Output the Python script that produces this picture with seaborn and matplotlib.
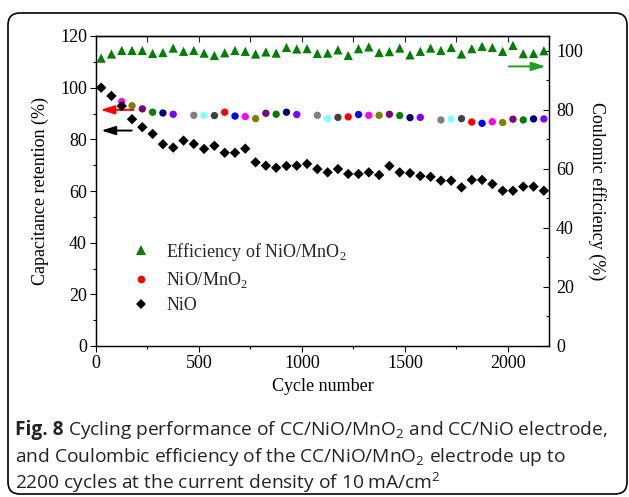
import numpy as np
import pandas as pd
import matplotlib
matplotlib.use("Agg")
import matplotlib.pyplot as plt
import seaborn as sns
from matplotlib.lines import Line2D
from matplotlib.patches import FancyBboxPatch
from matplotlib.ticker import MultipleLocator

# Cycle numbers at which each measurement was taken
cycles = [25, 75, 125, 175, 225, 275, 325, 375, 425, 475, 525, 575, 625, 675,
          725, 775, 825, 875, 925, 975, 1025, 1075, 1125, 1175, 1225, 1275,
          1325, 1375, 1425, 1475, 1525, 1575, 1625, 1675, 1725, 1775, 1825,
          1875, 1925, 1975, 2025, 2075, 2125, 2175]

# Coulombic efficiency of NiO/MnO2 (%), right axis
efficiency = [97.5, 98.9, 100.1, 100.1, 100.1, 99.1, 99.4, 100.9, 99.8, 100.1,
              99.2, 98.4, 99.3, 100.1, 99.8, 98.9, 99.6, 99.2, 101.1, 100.6,
              100.7, 99.1, 99.2, 100.3, 98.4, 100.7, 101.3, 99.4, 99.7, 100.9,
              98.6, 99.8, 100.9, 100.1, 101.1, 98.9, 100.7, 101.5, 101.1, 99.8,
              101.8, 99.0, 99.1, 100.0]

# Capacitance retention of NiO (%)
nio = [100.0, 96.8, 92.9, 87.8, 84.7, 82.1, 78.1, 76.8, 79.5, 78.2, 76.3,
       77.5, 74.8, 74.8, 76.4, 71.1, 69.8, 69.0, 69.7, 69.8, 70.5, 68.5, 67.2,
       68.5, 66.6, 66.6, 67.2, 66.2, 69.7, 67.2, 66.9, 65.8, 65.5, 64.0, 64.0,
       61.4, 64.3, 64.3, 62.7, 60.1, 60.1, 61.7, 61.7, 60.1]

# Capacitance retention of NiO/MnO2 (%); NaN where no point is shown
nio_mno2 = [100.0, np.nan, 94.6, 93.0, 91.8, 90.5, 90.2, 89.7, np.nan, 89.3,
            89.3, 89.2, 90.5, 89.0, 88.8, 88.0, 90.1, 89.7, 90.5, 89.6, np.nan,
            89.3, 88.0, 88.5, 88.7, 89.6, 89.3, 89.3, 89.7, 89.2, 88.4, 88.5,
            np.nan, 87.5, 87.9, 88.0, 86.7, 86.2, 86.8, 86.5, 87.8, 87.5,
            87.9, 87.9]

# Colour cycle used for the NiO/MnO2 points
color_cycle = ["red", "blue", "magenta", "olive", "purple", "green", "navy",
               "violet", "white", "gray", "cyan", "darkgray"]
palette = {"red": "#ff0000", "blue": "#0000ff", "magenta": "#ff00ff",
           "olive": "#808000", "purple": "#800080", "green": "#008000",
           "navy": "#000080", "violet": "#8000ff", "white": "#ffffff",
           "gray": "#808080", "cyan": "#80ffff", "darkgray": "#404040"}
point_colors = [color_cycle[i % len(color_cycle)] for i in range(len(cycles))]

sns.set_theme(style="ticks")
plt.rcParams["font.family"] = ["Liberation Serif", "DejaVu Serif"]

W, H = 629, 497
fig = plt.figure(figsize=(W / 100, H / 100), dpi=100)
fig.patch.set_facecolor("white")

ax = fig.add_axes([96 / W, 1 - 346 / H, 453 / W, 310 / H])
ax2 = ax.twinx()

df_mix = pd.DataFrame({"cycle": cycles, "ret": nio_mno2, "col": point_colors})
df_nio = pd.DataFrame({"cycle": cycles, "ret": nio})
df_eff = pd.DataFrame({"cycle": cycles, "eff": efficiency})

sns.scatterplot(data=df_mix, x="cycle", y="ret", hue="col", palette=palette,
                legend=False, s=28, marker="o", edgecolor="none", ax=ax,
                zorder=3)
sns.scatterplot(data=df_nio, x="cycle", y="ret", color="black", marker="D",
                s=28, edgecolor="none", ax=ax, zorder=4)
sns.scatterplot(data=df_eff, x="cycle", y="eff", color="#008000", marker="^",
                s=44, edgecolor="none", ax=ax2, zorder=4)

# axis ranges and ticks
ax.set_xlim(0, 2200)
ax.set_ylim(0, 120)
ax2.set_ylim(0, 105)
ax.set_xticks([0, 500, 1000, 1500, 2000])
ax.xaxis.set_minor_locator(MultipleLocator(250))
ax.set_yticks(range(0, 121, 20))
ax.yaxis.set_minor_locator(MultipleLocator(10))
ax2.set_yticks(range(0, 101, 20))
ax2.yaxis.set_minor_locator(MultipleLocator(10))

tick_fs = 13
ax.tick_params(axis="x", which="both", direction="out", bottom=True, top=False,
               labelsize=tick_fs, pad=2, colors="black")
ax.tick_params(axis="y", which="both", direction="out", left=True, right=False,
               labelsize=tick_fs, pad=2, colors="black")
ax2.tick_params(axis="y", which="both", direction="in", right=True,
                labelsize=tick_fs, pad=5, colors="black")
for a in (ax, ax2):
    a.tick_params(which="major", length=4.5, width=0.8)
    a.tick_params(which="minor", length=2.5, width=0.8)

top = ax.secondary_xaxis("top")
top.set_xticks([0, 500, 1000, 1500, 2000])
top.xaxis.set_minor_locator(MultipleLocator(250))
top.tick_params(which="both", direction="in", labeltop=False, width=0.8)
top.tick_params(which="major", length=4)
top.tick_params(which="minor", length=4)

for a in (ax, ax2, top):
    for sp in a.spines.values():
        sp.set_color("black")
        sp.set_linewidth(0.9)

ax.set_xlabel("Cycle number", fontsize=13, labelpad=4, color="black")
ax.set_ylabel("Capacitance retention (%)", fontsize=13, labelpad=8,
              color="black")
ax2.set_ylabel("Coulomic efficiency (%)", fontsize=13, rotation=270,
               labelpad=17, color="black")

# arrows pointing to the axis each series belongs to
arrow = dict(arrowstyle="-|>,head_length=0.7,head_width=0.22", lw=1.4,
             mutation_scale=12, shrinkA=0, shrinkB=0)
ax.annotate("", xy=(22, 91.4), xytext=(182, 91.4),
            arrowprops=dict(arrow, color="#ff0000"))
ax.annotate("", xy=(26, 83.4), xytext=(174, 83.4),
            arrowprops=dict(arrow, color="black"))
ax2.annotate("", xy=(2183, 94.7), xytext=(2006, 94.7),
             arrowprops=dict(arrow, color="#1fa01f"))

handles = [
    Line2D([], [], ls="none", marker="^", color="#008000", markersize=6.5,
           markeredgewidth=0),
    Line2D([], [], ls="none", marker="o", color="#ff0000", markersize=5.5,
           markeredgewidth=0),
    Line2D([], [], ls="none", marker="D", color="black", markersize=5,
           markeredgewidth=0),
]
labels = ["Efficiency of NiO/MnO$_\\mathregular{2}$",
          "NiO/MnO$_\\mathregular{2}$", "NiO"]
ax.legend(handles, labels, loc="upper left", bbox_to_anchor=(0.075, 0.34),
          frameon=False, fontsize=13, handlelength=1.2, handletextpad=0.8,
          labelspacing=0.4, borderpad=0, borderaxespad=0)

# rounded frame around the figure and its caption
frame = FancyBboxPatch((8 / 100, (H - 494) / 100), 619 / 100, 481 / 100,
                       boxstyle="round,pad=0,rounding_size=0.12",
                       transform=fig.dpi_scale_trans, fill=False,
                       edgecolor="black", linewidth=1.2)
fig.patches.append(frame)

cap = dict(fontsize=13.8, family=["Open Sans", "DejaVu Sans"], color="#222222",
           va="center")
x0 = 15 / W
bold = fig.text(x0, 1 - 430 / H, "Fig. 8", fontweight="bold", ha="left", **cap)
renderer = fig.canvas.get_renderer()
bb = bold.get_window_extent(renderer=renderer)
fig.text((bb.x1 + 5) / W, 1 - 430 / H,
         "Cycling performance of CC/NiO/MnO$_\\mathregular{2}$"
         " and CC/NiO electrode,", ha="left", **cap)
fig.text(x0, 1 - 457 / H,
         "and Coulombic efficiency of the CC/NiO/MnO$_\\mathregular{2}$"
         " electrode up to", ha="left", **cap)
fig.text(x0, 1 - 483 / H,
         "2200 cycles at the current density of 10 mA/cm$^\\mathregular{2}$",
         ha="left", **cap)

fig.savefig("out.png", dpi=100)
